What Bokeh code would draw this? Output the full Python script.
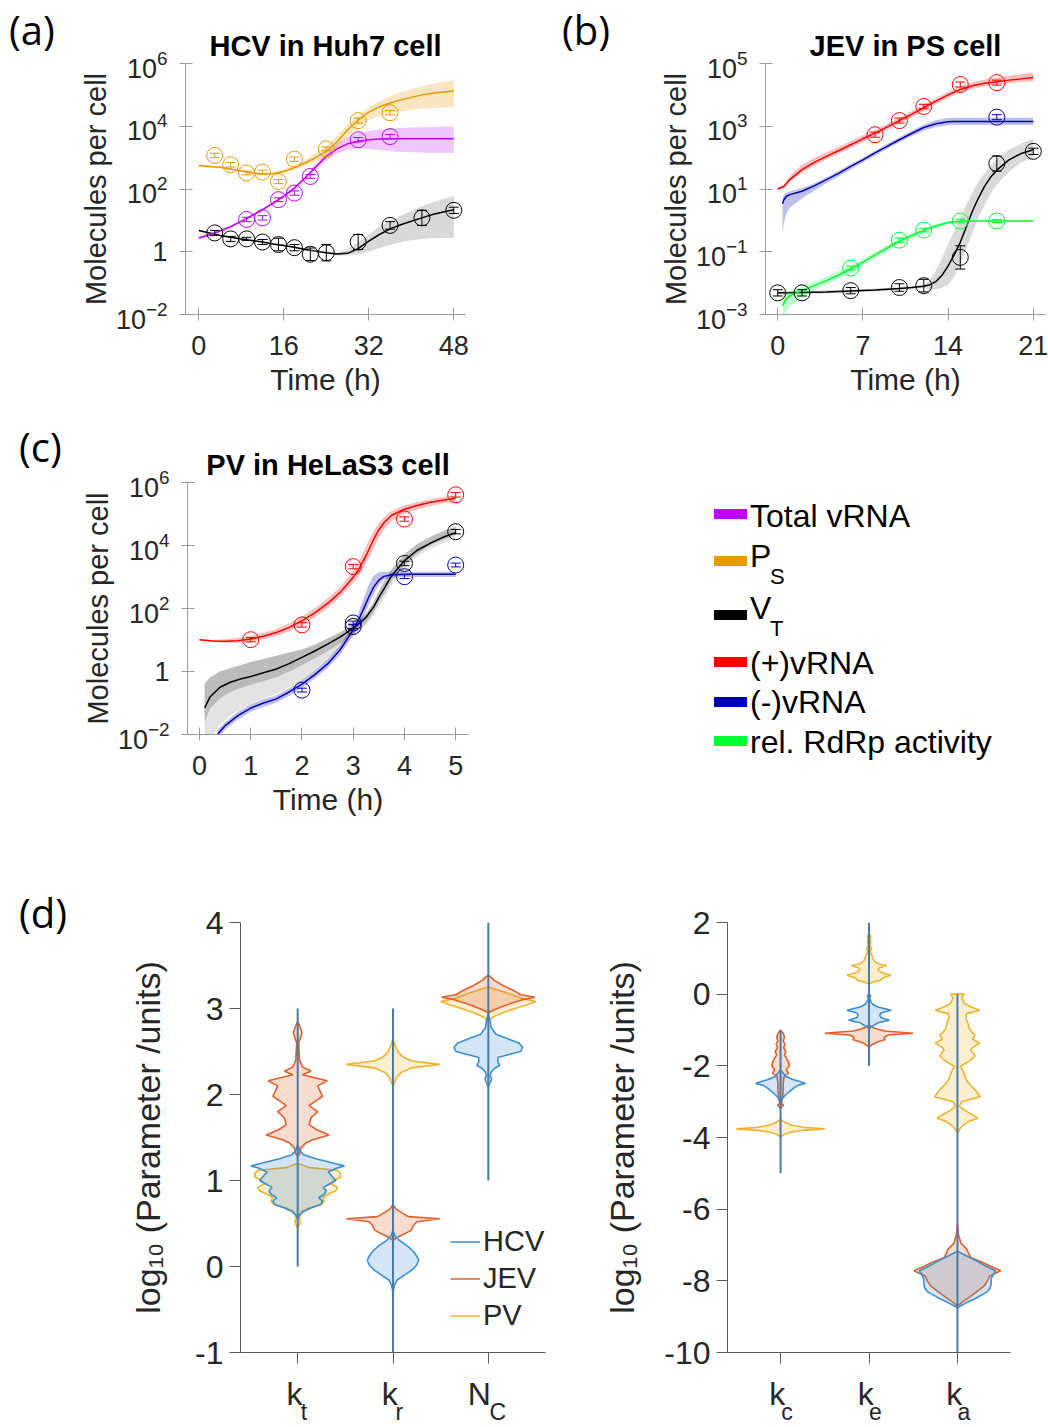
import numpy as np
from bokeh.plotting import figure
from bokeh.models import (Range1d, FixedTicker, LogTickFormatter, Whisker, TeeHead,
                          ColumnDataSource, Legend, LegendItem, LinearAxis, Div)
from bokeh.layouts import row, column
from bokeh.embed import file_html
from bokeh.resources import INLINE

FONT = "Liberation Sans"
LETTER_FONT = "Open Sans"
TXT = "#262626"
AX_GREY = "#9a9a9a"
AX_DARK = "#5a5a5a"

C_TOT = "#BF00FF"
C_PS = "#E69900"
C_VT = "#000000"
C_POS = "#FF0000"
C_NEG = "#0000B3"
C_RDRP = "#00FF33"
C_HCV = "#3A8FD0"
C_JEV = "#E0602A"
C_PV = "#EFB32E"
C_VLINE = "#4a7aa8"

# ---------------- (a) HCV in Huh7 cell (log10 molecules per cell) ----------------
hcv_fit_t = [0, 2, 4, 6, 8, 10, 12, 14, 16, 18, 20, 22, 24, 26, 28, 30, 32, 34, 36, 38, 40, 42, 44, 46, 48]
hcv_ps_fit = [2.75, 2.72, 2.69, 2.64, 2.57, 2.51, 2.48, 2.49, 2.56, 2.68, 2.83, 3.0, 3.2, 3.5, 3.88, 4.2, 4.45, 4.62, 4.74, 4.84, 4.92, 5.0, 5.05, 5.09, 5.12]
hcv_ps_hi = [2.79, 2.76, 2.73, 2.68, 2.61, 2.55, 2.52, 2.54, 2.62, 2.76, 2.93, 3.13, 3.38, 3.7, 4.05, 4.35, 4.6, 4.8, 4.95, 5.08, 5.18, 5.27, 5.35, 5.42, 5.47]
hcv_ps_lo = [2.71, 2.68, 2.65, 2.6, 2.53, 2.47, 2.44, 2.45, 2.5, 2.6, 2.73, 2.88, 3.03, 3.3, 3.65, 3.98, 4.2, 4.33, 4.42, 4.48, 4.52, 4.56, 4.58, 4.6, 4.62]
hcv_tot_fit = [0.44, 0.54, 0.66, 0.8, 0.97, 1.15, 1.34, 1.55, 1.77, 2.03, 2.35, 2.7, 3.04, 3.28, 3.44, 3.52, 3.57, 3.59, 3.6, 3.6, 3.6, 3.6, 3.6, 3.6, 3.6]
hcv_tot_hi = [0.49, 0.59, 0.71, 0.85, 1.02, 1.2, 1.39, 1.6, 1.82, 2.09, 2.42, 2.8, 3.16, 3.45, 3.65, 3.78, 3.85, 3.9, 3.93, 3.95, 3.96, 3.97, 3.98, 3.99, 3.99]
hcv_tot_lo = [0.39, 0.49, 0.61, 0.75, 0.92, 1.1, 1.29, 1.5, 1.72, 1.97, 2.27, 2.6, 2.9, 3.12, 3.25, 3.3, 3.27, 3.24, 3.2, 3.18, 3.17, 3.16, 3.15, 3.15, 3.14]
hcv_vt_fit = [0.68, 0.6, 0.52, 0.46, 0.41, 0.36, 0.31, 0.25, 0.2, 0.14, 0.07, 0.02, -0.03, -0.07, -0.05, 0.1, 0.34, 0.55, 0.73, 0.86, 0.97, 1.08, 1.19, 1.27, 1.34]
hcv_vt_hi = [0.71, 0.63, 0.55, 0.49, 0.44, 0.39, 0.34, 0.28, 0.23, 0.17, 0.1, 0.05, 0.0, -0.02, 0.08, 0.3, 0.55, 0.8, 1.0, 1.15, 1.3, 1.45, 1.58, 1.68, 1.77]
hcv_vt_lo = [0.65, 0.57, 0.49, 0.43, 0.38, 0.33, 0.28, 0.22, 0.17, 0.11, 0.04, -0.01, -0.06, -0.12, -0.12, -0.08, 0.0, 0.12, 0.22, 0.3, 0.37, 0.41, 0.43, 0.44, 0.45]

hcv_ps_t = [3, 6, 9, 12, 15, 18, 24, 30, 36]
hcv_ps_obs = [3.07, 2.77, 2.51, 2.54, 2.24, 2.95, 3.28, 4.18, 4.43]
hcv_ps_err = [0.07, 0.07, 0.06, 0.06, 0.07, 0.07, 0.06, 0.08, 0.07]
hcv_tot_t = [9, 12, 15, 18, 21, 30, 36]
hcv_tot_obs = [1.03, 1.08, 1.66, 1.87, 2.40, 3.57, 3.67]
hcv_tot_err = [0.07, 0.07, 0.06, 0.07, 0.06, 0.07, 0.07]
hcv_vt_t = [3, 6, 9, 12, 15, 18, 21, 24, 30, 36, 42, 48]
hcv_vt_obs = [0.60, 0.41, 0.41, 0.31, 0.23, 0.13, -0.08, -0.03, 0.31, 0.84, 1.08, 1.32]
hcv_vt_err = [0.08, 0.08, 0.05, 0.08, 0.2, 0.1, 0.2, 0.26, 0.24, 0.12, 0.24, 0.1]

# ---------------- (b) JEV in PS cell ----------------
jev_pos_t = [0, 0.5, 1, 2, 3, 4, 5, 6, 7, 8, 9, 10, 11, 12, 13, 14, 15, 16, 17, 18, 19, 20, 21]
jev_pos_fit = [1.0, 1.08, 1.3, 1.62, 1.85, 2.04, 2.22, 2.41, 2.6, 2.78, 2.98, 3.18, 3.38, 3.59, 3.8, 4.0, 4.17, 4.29, 4.37, 4.42, 4.47, 4.51, 4.55]
jev_pos_hi = [1.02, 1.14, 1.42, 1.77, 1.99, 2.17, 2.34, 2.53, 2.71, 2.88, 3.08, 3.28, 3.48, 3.69, 3.9, 4.1, 4.27, 4.4, 4.49, 4.55, 4.61, 4.66, 4.71]
jev_pos_lo = [0.98, 1.03, 1.22, 1.52, 1.75, 1.94, 2.12, 2.31, 2.5, 2.68, 2.88, 3.08, 3.28, 3.49, 3.7, 3.9, 4.07, 4.19, 4.27, 4.32, 4.37, 4.41, 4.43]
jev_neg_t = [0.4, 0.5, 0.7, 1, 2, 3, 4, 5, 6, 7, 8, 9, 10, 11, 12, 13, 14, 14.5, 15, 16, 17, 18, 19, 20, 21]
jev_neg_fit = [0.53, 0.65, 0.76, 0.82, 0.93, 1.1, 1.3, 1.5, 1.72, 1.93, 2.15, 2.36, 2.57, 2.77, 2.96, 3.08, 3.14, 3.15, 3.15, 3.15, 3.15, 3.15, 3.15, 3.15, 3.15]
jev_neg_hi = [0.72, 0.8, 0.88, 0.92, 1.03, 1.18, 1.37, 1.57, 1.79, 2.0, 2.22, 2.44, 2.65, 2.86, 3.05, 3.2, 3.26, 3.27, 3.27, 3.27, 3.27, 3.27, 3.27, 3.27, 3.27]
jev_neg_lo = [-0.45, -0.1, 0.2, 0.4, 0.7, 0.95, 1.18, 1.4, 1.62, 1.85, 2.07, 2.28, 2.49, 2.68, 2.86, 2.98, 3.03, 3.04, 3.04, 3.04, 3.04, 3.04, 3.04, 3.04, 3.04]
jev_rdrp_t = [0.4, 0.7, 1, 2, 3, 4, 5, 6, 7, 8, 9, 10, 11, 12, 13, 14, 15, 18, 21]
jev_rdrp_fit = [-2.72, -2.5, -2.4, -2.24, -2.08, -1.92, -1.74, -1.55, -1.33, -1.1, -0.88, -0.66, -0.48, -0.32, -0.18, -0.07, -0.02, -0.02, -0.02]
jev_rdrp_hi = [-2.35, -2.3, -2.25, -2.12, -1.96, -1.8, -1.62, -1.45, -1.23, -1.0, -0.79, -0.58, -0.4, -0.25, -0.12, -0.03, -0.02, -0.02, -0.02]
jev_rdrp_lo = [-3.1, -2.9, -2.75, -2.45, -2.22, -2.05, -1.85, -1.68, -1.45, -1.2, -0.98, -0.76, -0.58, -0.4, -0.25, -0.12, -0.03, -0.02, -0.02]
jev_vt_t = [0, 1, 2, 4, 6, 8, 10, 11, 12, 12.5, 13, 13.5, 14, 14.5, 15, 15.5, 16, 16.5, 17, 17.5, 18, 19, 20, 21]
jev_vt_fit = [-2.31, -2.31, -2.3, -2.28, -2.25, -2.22, -2.17, -2.14, -2.1, -2.05, -1.95, -1.75, -1.45, -1.1, -0.7, -0.2, 0.3, 0.72, 1.09, 1.38, 1.6, 1.93, 2.13, 2.25]
jev_vt_hi = [-2.26, -2.26, -2.25, -2.23, -2.2, -2.17, -2.12, -2.09, -2.05, -1.9, -1.6, -1.2, -0.75, -0.35, 0.05, 0.5, 0.9, 1.25, 1.5, 1.75, 1.95, 2.25, 2.45, 2.6]
jev_vt_lo = [-2.36, -2.36, -2.35, -2.33, -2.3, -2.27, -2.22, -2.19, -2.15, -2.2, -2.2, -2.15, -2.05, -1.8, -1.4, -0.9, -0.4, 0.1, 0.5, 0.85, 1.15, 1.55, 1.85, 2.0]

jev_pos_obs_t = [8, 10, 12, 15, 18]
jev_pos_obs = [2.73, 3.18, 3.63, 4.33, 4.39]
jev_pos_err = [0.08, 0.08, 0.07, 0.08, 0.08]
jev_neg_obs_t = [18]
jev_neg_obs = [3.29]
jev_neg_err = [0.08]
jev_rdrp_obs_t = [6, 10, 12, 15, 18]
jev_rdrp_obs = [-1.52, -0.63, -0.31, -0.02, -0.02]
jev_rdrp_err = [0.06, 0.07, 0.06, 0.06, 0.05]
jev_vt_obs_t = [0, 2, 6, 10, 12, 15, 18, 21]
jev_vt_obs = [-2.31, -2.31, -2.24, -2.14, -2.08, -1.18, 1.81, 2.2]
jev_vt_err = [0.1, 0.1, 0.1, 0.12, 0.2, 0.37, 0.24, 0.1]

# ---------------- (c) PV in HeLaS3 cell ----------------
pv_pos_t = [0, 0.25, 0.5, 0.75, 1, 1.25, 1.5, 1.75, 2, 2.25, 2.5, 2.75, 3, 3.1, 3.2, 3.3, 3.4, 3.5, 3.6, 3.75, 4, 4.25, 4.5, 4.75, 5]
pv_pos_fit = [1.01, 0.97, 0.96, 0.98, 1.03, 1.12, 1.24, 1.4, 1.61, 1.86, 2.16, 2.52, 2.99, 3.22, 3.52, 3.85, 4.2, 4.5, 4.72, 4.96, 5.15, 5.27, 5.37, 5.44, 5.5]
pv_pos_hi = [1.03, 1.0, 1.02, 1.07, 1.13, 1.23, 1.36, 1.53, 1.75, 2.01, 2.32, 2.69, 3.2, 3.45, 3.8, 4.15, 4.45, 4.72, 4.9, 5.1, 5.27, 5.38, 5.47, 5.54, 5.6]
pv_pos_lo = [0.99, 0.94, 0.91, 0.91, 0.94, 1.02, 1.13, 1.28, 1.48, 1.72, 2.01, 2.37, 2.8, 3.02, 3.28, 3.58, 3.92, 4.25, 4.5, 4.78, 5.0, 5.14, 5.25, 5.33, 5.39]
pv_vt_t = [0.1, 0.2, 0.4, 0.6, 0.8, 1, 1.25, 1.5, 1.75, 2, 2.25, 2.5, 2.75, 3, 3.1, 3.25, 3.4, 3.5, 3.6, 3.75, 4, 4.25, 4.5, 4.75, 5]
pv_vt_fit = [-1.16, -0.82, -0.5, -0.34, -0.24, -0.16, -0.04, 0.08, 0.25, 0.45, 0.65, 0.87, 1.1, 1.38, 1.5, 1.72, 2.05, 2.35, 2.62, 3.04, 3.52, 3.85, 4.07, 4.26, 4.41]
pv_vt_hi = [-0.4, -0.2, 0.0, 0.1, 0.2, 0.3, 0.4, 0.5, 0.6, 0.7, 0.85, 1.05, 1.25, 1.5, 1.62, 1.85, 2.2, 2.55, 2.85, 3.25, 3.72, 4.05, 4.27, 4.45, 4.6]
pv_vt_mid = [-1.6, -1.2, -0.85, -0.65, -0.52, -0.42, -0.3, -0.18, 0.0, 0.2, 0.42, 0.65, 0.9, 1.2, 1.33, 1.55, 1.88, 2.18, 2.45, 2.88, 3.38, 3.75, 4.0, 4.18, 4.33]
pv_vt_lo = [-2.5, -2.2, -1.7, -1.4, -1.2, -1.03, -0.87, -0.71, -0.5, -0.29, 0.0, 0.34, 0.75, 1.1, 1.25, 1.48, 1.8, 2.05, 2.3, 2.75, 3.25, 3.65, 3.9, 4.08, 4.22]
pv_neg_t = [0.35, 0.5, 0.75, 1, 1.25, 1.5, 1.75, 2, 2.25, 2.5, 2.75, 3, 3.1, 3.2, 3.3, 3.4, 3.5, 3.6, 3.75, 4, 4.5, 5]
pv_neg_fit = [-2.0, -1.72, -1.4, -1.16, -1.0, -0.87, -0.65, -0.4, -0.1, 0.24, 0.7, 1.32, 1.62, 1.98, 2.35, 2.68, 2.9, 3.02, 3.07, 3.09, 3.09, 3.09]
pv_neg_hi = [-1.85, -1.6, -1.28, -1.04, -0.88, -0.75, -0.53, -0.28, 0.02, 0.37, 0.85, 1.5, 1.85, 2.3, 2.75, 3.05, 3.15, 3.17, 3.17, 3.17, 3.17, 3.17]
pv_neg_lo = [-2.15, -1.84, -1.52, -1.28, -1.12, -0.99, -0.77, -0.52, -0.22, 0.11, 0.55, 1.15, 1.42, 1.75, 2.1, 2.45, 2.75, 2.92, 2.99, 3.0, 3.0, 3.0]

pv_pos_obs_t = [1, 2, 3, 4, 5]
pv_pos_obs = [1.01, 1.48, 3.33, 4.84, 5.61]
pv_pos_err = [0.07, 0.07, 0.07, 0.07, 0.07]
pv_vt_obs_t = [3, 4, 5]
pv_vt_obs = [1.43, 3.43, 4.44]
pv_vt_err = [0.07, 0.07, 0.07]
pv_neg_obs_t = [2, 3, 4, 5]
pv_neg_obs = [-0.59, 1.54, 3.01, 3.38]
pv_neg_err = [0.06, 0.06, 0.06, 0.06]

# ---------------- legend (middle right) ----------------
leg_main = ["Total vRNA", "P", "V", "(+)vRNA", "(-)vRNA", "rel. RdRp activity"]
leg_sub = ["", "S", "T", "", "", ""]
leg_colors = [C_TOT, C_PS, C_VT, C_POS, C_NEG, C_RDRP]
leg_swatch_top = [99, 146, 200, 247, 287, 326]
leg_text_top = [90, 130, 182, 237, 276, 316]

# ---------------- (d) violins: log10 parameter values and half widths ----------------
d1_cats = [1, 2, 3]
d1_base = ["k\u2009", "k\u2009", "N\u00a0\u00a0"]
d1_subs = ["\u00a0\u00a0t", "\u00a0\u00a0r", "\u00a0\u00a0\u00a0C"]
d1_line_lo = [0, -1, 1]
d1_line_hi = [3, 3, 4]
d2_cats = [1, 2, 3]
d2_base = ["k\u2009", "k\u2009", "k\u2009"]
d2_subs = ["\u00a0\u00a0c", "\u00a0\u00a0e", "\u00a0\u00a0a"]
d2_line_lo = [-5, -2, -10]
d2_line_hi = [-1, 2, 0]

kt_jev_v = [2.85, 2.8, 2.72, 2.66, 2.6, 2.5, 2.4, 2.32, 2.27, 2.23, 2.16, 2.10, 2.05, 1.98, 1.92, 1.87, 1.80, 1.73, 1.65, 1.59, 1.53, 1.47, 1.44, 1.38, 1.32, 1.28]
kt_jev_w = [0.0, 0.02, 0.045, 0.03, 0.01, 0.015, 0.02, 0.05, 0.14, 0.05, 0.31, 0.21, 0.23, 0.26, 0.18, 0.12, 0.21, 0.14, 0.12, 0.2, 0.33, 0.15, 0.09, 0.035, 0.025, 0.0]
kt_hcv_v = [1.42, 1.35, 1.3, 1.25, 1.2, 1.17, 1.14, 1.1, 1.05, 1.0, 0.95, 0.92, 0.88, 0.84, 0.8, 0.76, 0.72, 0.68, 0.64, 0.6, 0.56]
kt_hcv_w = [0.0, 0.02, 0.06, 0.2, 0.38, 0.49, 0.4, 0.32, 0.36, 0.4, 0.32, 0.27, 0.3, 0.28, 0.22, 0.26, 0.24, 0.14, 0.06, 0.02, 0.0]
kt_pv_v = [1.2, 1.15, 1.12, 1.08, 1.04, 1.0, 0.96, 0.92, 0.88, 0.84, 0.8, 0.76, 0.72, 0.68, 0.64, 0.6, 0.56, 0.52, 0.48, 0.45]
kt_pv_w = [0.0, 0.12, 0.42, 0.45, 0.45, 0.38, 0.35, 0.42, 0.4, 0.32, 0.26, 0.28, 0.25, 0.12, 0.04, 0.03, 0.015, 0.03, 0.015, 0.0]
kr_pv_v = [2.65, 2.58, 2.5, 2.44, 2.39, 2.35, 2.31, 2.26, 2.2, 2.15, 2.1]
kr_pv_w = [0.0, 0.02, 0.05, 0.1, 0.2, 0.49, 0.2, 0.09, 0.04, 0.02, 0.0]
kr_jev_v = [0.72, 0.67, 0.62, 0.58, 0.555, 0.52, 0.47, 0.42, 0.37, 0.33, 0.3]
kr_jev_w = [0.0, 0.03, 0.1, 0.16, 0.49, 0.25, 0.21, 0.19, 0.1, 0.03, 0.0]
kr_hcv_v = [0.42, 0.36, 0.3, 0.24, 0.18, 0.12, 0.07, 0.02, -0.04, -0.1, -0.16, -0.22, -0.3]
kr_hcv_w = [0.0, 0.02, 0.07, 0.15, 0.21, 0.25, 0.27, 0.25, 0.2, 0.12, 0.04, 0.015, 0.0]
nc_jev_v = [3.39, 3.33, 3.27, 3.2, 3.16, 3.13, 3.1, 3.06, 3.02, 2.98, 2.95]
nc_jev_w = [0.0, 0.06, 0.15, 0.28, 0.34, 0.49, 0.35, 0.24, 0.14, 0.05, 0.0]
nc_pv_v = [3.25, 3.18, 3.12, 3.08, 3.04, 3.0, 2.95, 2.9, 2.86]
nc_pv_w = [0.0, 0.2, 0.35, 0.5, 0.4, 0.28, 0.15, 0.05, 0.0]
nc_hcv_v = [2.94, 2.85, 2.78, 2.7, 2.65, 2.6, 2.55, 2.5, 2.46, 2.43, 2.38, 2.34, 2.3, 2.26, 2.22, 2.18, 2.14, 2.09]
nc_hcv_w = [0.0, 0.02, 0.03, 0.08, 0.2, 0.32, 0.36, 0.34, 0.2, 0.1, 0.1, 0.12, 0.06, 0.03, 0.02, 0.035, 0.02, 0.0]

kc_jev_v = [-1.0, -1.1, -1.2, -1.3, -1.4, -1.5, -1.6, -1.7, -1.8, -1.9, -2.0, -2.1, -2.2, -2.3, -2.5, -2.7, -2.9, -3.05, -3.1, -3.15, -3.2]
kc_jev_w = [0.0, 0.03, 0.045, 0.03, 0.05, 0.035, 0.06, 0.045, 0.07, 0.09, 0.1, 0.065, 0.09, 0.04, 0.03, 0.03, 0.02, 0.01, 0.035, 0.01, 0.0]
kc_hcv_v = [-2.12, -2.2, -2.3, -2.38, -2.44, -2.49, -2.54, -2.6, -2.66, -2.72, -2.8, -2.88, -2.96, -3.02]
kc_hcv_w = [0.0, 0.03, 0.06, 0.14, 0.22, 0.28, 0.2, 0.16, 0.13, 0.1, 0.06, 0.03, 0.01, 0.0]
kc_pv_v = [-3.5, -3.58, -3.66, -3.72, -3.76, -3.8, -3.86, -3.92, -3.98]
kc_pv_w = [0.0, 0.05, 0.13, 0.28, 0.5, 0.25, 0.1, 0.04, 0.0]
ke_pv_v = [1.7, 1.6, 1.52, 1.45, 1.38, 1.27, 1.18, 1.1, 1.0, 0.92, 0.85, 0.8, 0.74, 0.67, 0.6, 0.53, 0.46, 0.39, 0.33, 0.28]
ke_pv_w = [0.0, 0.02, 0.005, 0.02, 0.005, 0.03, 0.01, 0.03, 0.045, 0.06, 0.1, 0.2, 0.12, 0.1, 0.15, 0.25, 0.16, 0.13, 0.04, 0.0]
ke_hcv_v = [0.0, -0.05, -0.1, -0.2, -0.28, -0.36, -0.45, -0.52, -0.59, -0.66, -0.73, -0.8, -0.86, -0.92, -0.97]
ke_hcv_w = [0.0, 0.02, 0.005, 0.02, 0.04, 0.1, 0.25, 0.14, 0.12, 0.14, 0.23, 0.1, 0.06, 0.02, 0.0]
ke_jev_v = [-0.86, -0.93, -0.98, -1.03, -1.09, -1.14, -1.2, -1.27, -1.33, -1.4, -1.47]
ke_jev_w = [0.0, 0.04, 0.1, 0.18, 0.5, 0.22, 0.17, 0.18, 0.1, 0.04, 0.0]
ka_pv_v = [0.0, -0.12, -0.26, -0.35, -0.45, -0.55, -0.7, -0.82, -0.95, -1.05, -1.14, -1.25, -1.37, -1.47, -1.56, -1.65, -1.72, -1.84, -1.95, -2.02, -2.12, -2.25, -2.39, -2.52, -2.67, -2.8, -2.86, -2.93, -3.0, -3.13, -3.27, -3.38, -3.46, -3.55, -3.65, -3.75, -3.88]
ka_pv_w = [0.075, 0.05, 0.08, 0.15, 0.25, 0.1, 0.1, 0.12, 0.13, 0.16, 0.2, 0.17, 0.25, 0.18, 0.15, 0.18, 0.2, 0.15, 0.08, 0.03, 0.06, 0.08, 0.1, 0.14, 0.2, 0.24, 0.26, 0.15, 0.05, 0.02, 0.1, 0.18, 0.23, 0.13, 0.07, 0.03, 0.0]
ka_jev_v = [-6.4, -6.7, -6.95, -7.1, -7.2, -7.35, -7.5, -7.62, -7.72, -7.8, -7.88, -8.0, -8.15, -8.3, -8.45, -8.6, -8.7]
ka_jev_w = [0.0, 0.01, 0.04, 0.1, 0.12, 0.15, 0.3, 0.4, 0.49, 0.42, 0.36, 0.34, 0.3, 0.22, 0.14, 0.05, 0.0]
ka_hcv_v = [-7.17, -7.3, -7.45, -7.6, -7.72, -7.85, -7.95, -8.1, -8.2, -8.3, -8.4, -8.5, -8.6, -8.68, -8.75]
ka_hcv_w = [0.0, 0.1, 0.22, 0.33, 0.43, 0.4, 0.38, 0.38, 0.37, 0.34, 0.27, 0.2, 0.11, 0.05, 0.0]


def pw(a):
    return [10.0 ** v for v in a]


def letter_div(text, w, h, left, top):
    html = ('<div style="position:relative;width:%dpx;height:%dpx;">'
            '<div style="position:absolute;left:%dpx;top:%dpx;font-family:\'%s\';font-size:40px;'
            'line-height:44px;color:black;white-space:nowrap;">%s</div></div>'
            % (w, h, left, top, LETTER_FONT, text))
    return Div(text=html, width=w, height=h, margin=0)


def ts_figure(title, w, h, xr, yr, xt, yt, minexp, bl, br, bt, bb):
    p = figure(width=w, height=h, x_range=Range1d(*xr), y_range=Range1d(*yr), y_axis_type="log",
               output_backend="svg", toolbar_location=None, title=title,
               min_border_left=bl, min_border_right=br, min_border_top=bt, min_border_bottom=bb)
    p.outline_line_color = None
    p.grid.visible = False
    p.xaxis.ticker = FixedTicker(ticks=xt)
    p.yaxis.ticker = FixedTicker(ticks=yt)
    p.yaxis.formatter = LogTickFormatter(min_exponent=minexp)
    p.xaxis.axis_label = "Time (h)"
    p.yaxis.axis_label = "Molecules per cell"
    for ax in (p.xaxis[0], p.yaxis[0]):
        ax.axis_line_color = AX_GREY
        ax.major_tick_line_color = AX_GREY
        ax.minor_tick_line_color = None
        ax.major_tick_in = 7
        ax.major_tick_out = 6
        ax.major_label_text_font = FONT
        ax.major_label_text_font_size = "27px"
        ax.major_label_text_color = TXT
        ax.axis_label_text_font = FONT
        ax.axis_label_text_font_size = "29px"
        ax.axis_label_text_font_style = "normal"
        ax.axis_label_text_color = TXT
    p.xaxis.axis_label_text_font_size = "30px"
    p.xaxis.major_label_standoff = 15
    p.yaxis.major_label_standoff = 12
    p.xaxis.axis_label_standoff = 5
    p.yaxis.axis_label_standoff = 1
    p.title.text_font = FONT
    p.title.text_font_size = "29px"
    p.title.text_font_style = "bold"
    p.title.text_color = "black"
    p.title.align = "center"
    p.title.standoff = 4
    return p


def fit(p, t, mid, lo, hi, color, band_color, band_alpha):
    p.varea(x=t, y1=pw(lo), y2=pw(hi), fill_color=band_color, fill_alpha=band_alpha)
    p.line(t, pw(mid), line_color=color, line_width=1.5)


def obs(p, t, v, e, color):
    y = np.array(pw(v))
    f = np.array(pw(e))
    src = ColumnDataSource(dict(x=t, y=y, lo=y / f, hi=y * f))
    p.add_layout(Whisker(source=src, base="x", lower="lo", upper="hi", line_color=color, line_width=1,
                         upper_head=TeeHead(size=10, line_color=color, line_width=1),
                         lower_head=TeeHead(size=10, line_color=color, line_width=1), level="glyph"))
    p.scatter("x", "y", source=src, marker="circle", size=16, fill_color=None, line_color=color, line_width=1)


# ---- (a)
pa = ts_figure("HCV in Huh7 cell", 454, 410, (-2.5, 50.2), (1e-2, 1e6), [0, 16, 32, 48],
               [1e-2, 1, 1e2, 1e4, 1e6], 1, 115, 59, 63, 95)
fit(pa, hcv_fit_t, hcv_vt_fit, hcv_vt_lo, hcv_vt_hi, C_VT, "#808080", 0.3)
fit(pa, hcv_fit_t, hcv_tot_fit, hcv_tot_lo, hcv_tot_hi, C_TOT, C_TOT, 0.22)
fit(pa, hcv_fit_t, hcv_ps_fit, hcv_ps_lo, hcv_ps_hi, C_PS, C_PS, 0.25)
obs(pa, hcv_vt_t, hcv_vt_obs, hcv_vt_err, C_VT)
obs(pa, hcv_tot_t, hcv_tot_obs, hcv_tot_err, C_TOT)
obs(pa, hcv_ps_t, hcv_ps_obs, hcv_ps_err, C_PS)

# ---- (b)
pb = ts_figure("JEV in PS cell", 424, 410, (-1.0, 22.0), (1e-3, 1e5), [0, 7, 14, 21],
               [1e-3, 1e-1, 1e1, 1e3, 1e5], 0, 141, 3, 62, 96)
fit(pb, jev_vt_t, jev_vt_fit, jev_vt_lo, jev_vt_hi, C_VT, "#808080", 0.3)
fit(pb, jev_rdrp_t, jev_rdrp_fit, jev_rdrp_lo, jev_rdrp_hi, C_RDRP, C_RDRP, 0.25)
fit(pb, jev_neg_t, jev_neg_fit, jev_neg_lo, jev_neg_hi, C_NEG, C_NEG, 0.25)
fit(pb, jev_pos_t, jev_pos_fit, jev_pos_lo, jev_pos_hi, C_POS, C_POS, 0.25)
obs(pb, jev_vt_obs_t, jev_vt_obs, jev_vt_err, C_VT)
obs(pb, jev_rdrp_obs_t, jev_rdrp_obs, jev_rdrp_err, C_RDRP)
obs(pb, jev_neg_obs_t, jev_neg_obs, jev_neg_err, C_NEG)
obs(pb, jev_pos_obs_t, jev_pos_obs, jev_pos_err, C_POS)

# ---- (c)
pc = ts_figure("PV in HeLaS3 cell", 454, 440, (-0.234, 5.25), (1e-2, 1e6), [0, 1, 2, 3, 4, 5],
               [1e-2, 1, 1e2, 1e4, 1e6], 1, 117, 56, 72, 116)
pc.varea(x=pv_vt_t, y1=pw(pv_vt_lo), y2=pw(pv_vt_hi), fill_color="#c8c8c8", fill_alpha=0.5)
fit(pc, pv_vt_t, pv_vt_fit, pv_vt_mid, pv_vt_hi, C_VT, "#808080", 0.4)
fit(pc, pv_neg_t, pv_neg_fit, pv_neg_lo, pv_neg_hi, C_NEG, C_NEG, 0.25)
fit(pc, pv_pos_t, pv_pos_fit, pv_pos_lo, pv_pos_hi, C_POS, C_POS, 0.25)
obs(pc, pv_vt_obs_t, pv_vt_obs, pv_vt_err, C_VT)
obs(pc, pv_neg_obs_t, pv_neg_obs, pv_neg_err, C_NEG)
obs(pc, pv_pos_obs_t, pv_pos_obs, pv_pos_err, C_POS)

# ---- legend panel (HTML so that the subscripts are real text)
parts = ['<div style="position:relative;width:524px;height:440px;font-family:\'%s\';color:black;">' % FONT]
for lab, sub, col, st, tt in zip(leg_main, leg_sub, leg_colors, leg_swatch_top, leg_text_top):
    parts.append('<div style="position:absolute;left:190px;top:%dpx;width:33px;height:10px;background:%s;"></div>'
                 % (st, col))
    parts.append('<div style="position:absolute;left:226px;top:%dpx;font-size:32px;line-height:32px;'
                 'white-space:nowrap;">%s</div>' % (tt, lab))
    if sub:
        parts.append('<div style="position:absolute;left:246px;top:%dpx;font-size:22px;line-height:22px;'
                     'white-space:nowrap;">%s</div>' % (tt + 26, sub))
parts.append('</div>')
legend_div = Div(text="".join(parts), width=524, height=440, margin=0)


# ---- (d)
def violin_fig(w, h, yr, yt, base, subs, bl, br, bt, bb, ylab_standoff):
    p = figure(width=w, height=h, x_range=Range1d(0.4, 3.6), y_range=Range1d(*yr),
               output_backend="svg", toolbar_location=None,
               min_border_left=bl, min_border_right=br, min_border_top=bt, min_border_bottom=bb)
    p.outline_line_color = None
    p.grid.visible = False
    p.xaxis.ticker = FixedTicker(ticks=[1, 2, 3])
    p.xaxis.major_label_overrides = {1: base[0], 2: base[1], 3: base[2]}
    p.yaxis.ticker = FixedTicker(ticks=yt)
    p.yaxis.major_label_overrides = {t: str(t) for t in yt if t < 0}
    p.yaxis.axis_label = "log\u2081\u2080 (Parameter /units)"
    for ax in (p.xaxis[0], p.yaxis[0]):
        ax.axis_line_color = AX_DARK
        ax.major_tick_line_color = AX_DARK
        ax.minor_tick_line_color = None
        ax.major_tick_in = 0
        ax.major_tick_out = 11
        ax.major_label_text_font = FONT
        ax.major_label_text_font_size = "32px"
        ax.major_label_text_color = TXT
        ax.axis_label_text_font = FONT
        ax.axis_label_text_font_size = "34px"
        ax.axis_label_text_font_style = "normal"
        ax.axis_label_text_color = TXT
    p.xaxis.major_label_text_font_size = "32px"
    p.xaxis.major_label_standoff = 12
    p.yaxis.major_label_standoff = 6
    p.yaxis.axis_label_standoff = ylab_standoff
    sub_ax = LinearAxis(ticker=FixedTicker(ticks=[1, 2, 3]),
                        major_label_overrides={1: subs[0], 2: subs[1], 3: subs[2]},
                        axis_line_color=None, major_tick_line_color=None, minor_tick_line_color=None,
                        major_tick_in=0, major_tick_out=0, major_label_standoff=-16,
                        major_label_text_font=FONT, major_label_text_font_size="23px",
                        major_label_text_color=TXT)
    p.add_layout(sub_ax, "below")
    return p


def violin(p, c, v, w, color):
    xs = [c + wi for wi in w] + [c - wi for wi in reversed(w)]
    ys = list(v) + list(reversed(v))
    p.patch(xs, ys, fill_color=color, fill_alpha=0.22, line_color=color, line_width=1.6)


pd1 = violin_fig(500, 577, (-1, 4), [-1, 0, 1, 2, 3, 4], d1_base, d1_subs, 140, 55, 72, 74, 25)
violin(pd1, 1, kt_pv_v, kt_pv_w, C_PV)
violin(pd1, 1, kt_jev_v, kt_jev_w, C_JEV)
violin(pd1, 1, kt_hcv_v, kt_hcv_w, C_HCV)
violin(pd1, 2, kr_pv_v, kr_pv_w, C_PV)
violin(pd1, 2, kr_jev_v, kr_jev_w, C_JEV)
violin(pd1, 2, kr_hcv_v, kr_hcv_w, C_HCV)
violin(pd1, 3, nc_pv_v, nc_pv_w, C_PV)
violin(pd1, 3, nc_jev_v, nc_jev_w, C_JEV)
violin(pd1, 3, nc_hcv_v, nc_hcv_w, C_HCV)
pd1.segment(x0=d1_cats, x1=d1_cats, y0=d1_line_lo, y1=d1_line_hi, line_color=C_VLINE, line_width=2)
r_h = pd1.line(x=[np.nan], y=[np.nan], line_color=C_HCV, line_width=1.5)
r_j = pd1.line(x=[np.nan], y=[np.nan], line_color=C_JEV, line_width=1.5)
r_p = pd1.line(x=[np.nan], y=[np.nan], line_color=C_PV, line_width=1.5)
leg = Legend(items=[LegendItem(label="HCV", renderers=[r_h]), LegendItem(label="JEV", renderers=[r_j]),
                    LegendItem(label="PV", renderers=[r_p])],
             location=(210, 18), orientation="vertical", border_line_color=None, background_fill_alpha=0,
             label_text_font=FONT, label_text_font_size="29px", label_text_color=TXT,
             glyph_width=30, glyph_height=37, label_height=37, label_standoff=3, spacing=0,
             padding=0, margin=0)
pd1.add_layout(leg)

pd2 = violin_fig(448, 577, (-10, 2), [-10, -8, -6, -4, -2, 0, 2], d2_base, d2_subs, 123, 38, 72, 74, 20)
violin(pd2, 1, kc_jev_v, kc_jev_w, C_JEV)
violin(pd2, 1, kc_hcv_v, kc_hcv_w, C_HCV)
violin(pd2, 1, kc_pv_v, kc_pv_w, C_PV)
violin(pd2, 2, ke_pv_v, ke_pv_w, C_PV)
violin(pd2, 2, ke_jev_v, ke_jev_w, C_JEV)
violin(pd2, 2, ke_hcv_v, ke_hcv_w, C_HCV)
violin(pd2, 3, ka_pv_v, ka_pv_w, C_PV)
violin(pd2, 3, ka_jev_v, ka_jev_w, C_JEV)
violin(pd2, 3, ka_hcv_v, ka_hcv_w, C_HCV)
pd2.segment(x0=d2_cats, x1=d2_cats, y0=d2_line_lo, y1=d2_line_hi, line_color=C_VLINE, line_width=2)

div_a = letter_div("(a)", 70, 410, 9, 8)
div_b = letter_div("(b)", 100, 410, 38, 8)
div_c = letter_div("(c)", 70, 440, 19, 15)
div_d = letter_div("(d)", 100, 577, 19, 41)

layout = column(row(div_a, pa, div_b, pb), row(div_c, pc, legend_div), row(div_d, pd1, pd2))
open("out.html", "w").write(file_html(layout, INLINE))
